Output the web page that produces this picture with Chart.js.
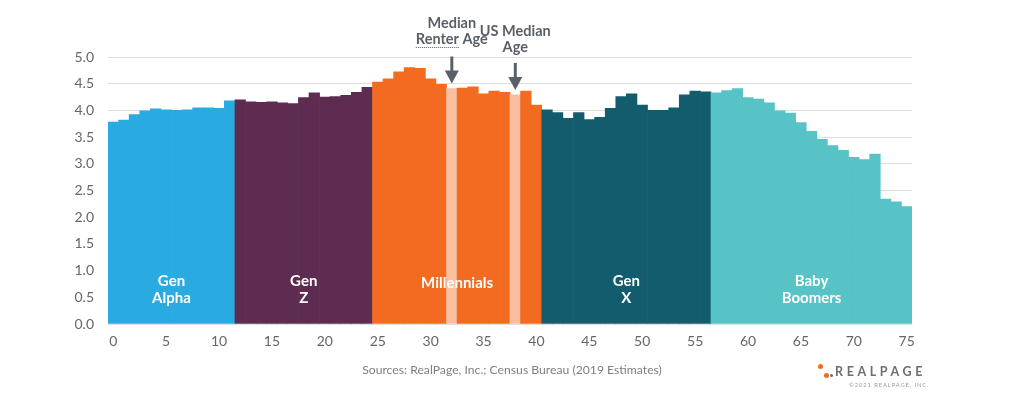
<!DOCTYPE html>
<html>
<head>
<meta charset="utf-8">
<script src="https://cdn.jsdelivr.net/npm/chart.js@4.4.1/dist/chart.umd.min.js"></script>
<style>
  html, body { margin: 0; padding: 0; background: #fff; }
  #wrap { position: relative; width: 1024px; height: 397px; font-family: Lato, 'Open Sans', sans-serif; }
  #chart { position: absolute; left: 0; top: 0; }
  .source { position: absolute; left: 0; width: 1024px; top: 362px; text-align: center; font-size: 12.2px; color: #7f7f7f; }
  .logo { position: absolute; left: 835px; top: 364px; font-size: 12.5px; font-weight: bold; letter-spacing: 3.6px; color: #6d6e71; }
  .copy { position: absolute; left: 849px; top: 381px; font-size: 5.8px; letter-spacing: 0.9px; color: #9a9a9a; }
  .dot { position: absolute; border-radius: 50%; }
</style>
</head>
<body>
<div id="wrap">
  <canvas id="chart" width="1024" height="397"></canvas>
  <div class="source">Sources: RealPage, Inc.; Census Bureau (2019 Estimates)</div>
  <div class="dot" style="left:818px;top:364px;width:5px;height:5px;background:#f26b21"></div>
  <div class="dot" style="left:824px;top:373px;width:5px;height:5px;background:#f26b21"></div>
  <div class="dot" style="left:830px;top:374px;width:3px;height:3px;background:#6d6e71"></div>
  <div class="logo">REALPAGE</div>
  <div class="copy">©2021 REALPAGE, INC.</div>
</div>
<script>
// ages 0..75
const ages = Array.from({ length: 76 }, (_, i) => i);

// average household size by age of householder
const householdSize = [
  3.78, 3.82, 3.92, 3.99, 4.03, 4.01, 4.00, 4.01, 4.05, 4.05,
  4.04, 4.18, 4.20, 4.16, 4.15, 4.16, 4.14, 4.13, 4.24, 4.33,
  4.25, 4.26, 4.28, 4.34, 4.43, 4.53, 4.59, 4.72, 4.80, 4.79,
  4.59, 4.49, 4.41, 4.42, 4.44, 4.31, 4.36, 4.34, 4.29, 4.36,
  4.10, 4.01, 3.96, 3.85, 3.96, 3.83, 3.87, 4.04, 4.26, 4.31,
  4.10, 4.00, 4.00, 4.05, 4.29, 4.36, 4.35, 4.33, 4.37, 4.41,
  4.24, 4.21, 4.14, 3.99, 3.95, 3.77, 3.61, 3.46, 3.34, 3.25,
  3.12, 3.08, 3.18, 2.34, 2.29, 2.20
];

const genNames = [['Gen', 'Alpha'], ['Gen', 'Z'], ['Millennials'], ['Gen', 'X'], ['Baby', 'Boomers']];
const genStart = [0, 12, 25, 41, 57];
const genEnd = [11, 24, 40, 56, 75];
const genColors = ['#29abe2', '#5e2c50', '#f26b21', '#135c6e', '#57c3c6'];

const medianAges = [32, 38];
const medianLabels = [['Median', 'Renter Age'], ['US Median', 'Age']];
const medianColor = '#f9bfa0';

const yTicks = [0, 0.5, 1, 1.5, 2, 2.5, 3, 3.5, 4, 4.5, 5];

const barColors = ages.map((a) => {
  if (medianAges.includes(a)) return medianColor;
  const g = genStart.findIndex((s, i) => a >= s && a <= genEnd[i]);
  return genColors[g];
});

const annotations = {
  id: 'annotations',
  afterDatasetsDraw(chart) {
    const { ctx, scales: { x, y } } = chart;
    ctx.save();
    // generation names inside the bars
    ctx.fillStyle = '#ffffff';
    ctx.font = 'bold 15px Lato';
    ctx.textAlign = 'center';
    ctx.textBaseline = 'middle';
    genNames.forEach((lines, i) => {
      const cx = (x.getPixelForValue(genStart[i]) + x.getPixelForValue(genEnd[i])) / 2;
      const top = lines.length > 1 ? y.getPixelForValue(0.8) : y.getPixelForValue(0.77);
      lines.forEach((t, j) => ctx.fillText(t, cx, top + j * 17));
    });
    // median age arrows and labels
    ctx.fillStyle = '#5b6068';
    ctx.strokeStyle = '#5b6068';
    medianAges.forEach((a, i) => {
      const cx = x.getPixelForValue(a);
      const tip = y.getPixelForValue(householdSize[a]) - 5;
      const tail = tip - 27;
      ctx.lineWidth = 3;
      ctx.beginPath();
      ctx.moveTo(cx, tail);
      ctx.lineTo(cx, tip - 10);
      ctx.stroke();
      ctx.beginPath();
      ctx.moveTo(cx - 7, tip - 13);
      ctx.lineTo(cx + 7, tip - 13);
      ctx.lineTo(cx, tip);
      ctx.closePath();
      ctx.fill();
      ctx.font = 'bold 14.5px Lato';
      const lines = medianLabels[i];
      const base = i === 0 ? 23 : 31;
      lines.forEach((t, j) => ctx.fillText(t, cx, base + j * 16.5));
    });
    // underline under "Renter"
    const cx0 = x.getPixelForValue(medianAges[0]);
    ctx.font = 'bold 14.5px Lato';
    const full = ctx.measureText(medianLabels[0][1]).width;
    const rw = ctx.measureText('Renter').width;
    ctx.lineWidth = 1;
    ctx.setLineDash([1, 1]);
    ctx.beginPath();
    ctx.moveTo(cx0 - full / 2, 47.5);
    ctx.lineTo(cx0 - full / 2 + rw, 47.5);
    ctx.stroke();
    ctx.restore();
  }
};

new Chart(document.getElementById('chart'), {
  type: 'bar',
  data: {
    labels: ages,
    datasets: [{
      data: householdSize,
      backgroundColor: barColors,
      borderWidth: 0,
      barPercentage: 1,
      categoryPercentage: 1,
    }],
  },
  options: {
    responsive: false,
    animation: false,
    layout: { padding: { top: 57, right: 112, left: 0, bottom: 0 } },
    plugins: { legend: { display: false }, tooltip: { enabled: false } },
    scales: {
      x: {
        grid: { display: false },
        border: { display: false },
        afterFit: (s) => { s.height = 73; },
        ticks: {
          autoSkip: false,
          maxRotation: 0,
          padding: 1,
          color: '#666666',
          font: { family: 'Lato', size: 14 },
          callback: (v, i) => (ages[i] % 5 === 0 ? String(ages[i]) : ''),
        },
      },
      y: {
        min: 0,
        max: 5,
        afterFit: (s) => { s.width = 108; },
        afterBuildTicks: (s) => { s.ticks = yTicks.map((v) => ({ value: v })); },
        grid: { color: '#dedede', drawTicks: false },
        border: { display: false },
        ticks: {
          padding: 14,
          color: '#666666',
          font: { family: 'Lato', size: 14 },
          callback: (v) => v.toFixed(1),
        },
      },
    },
  },
  plugins: [annotations],
});
</script>
</body>
</html>
